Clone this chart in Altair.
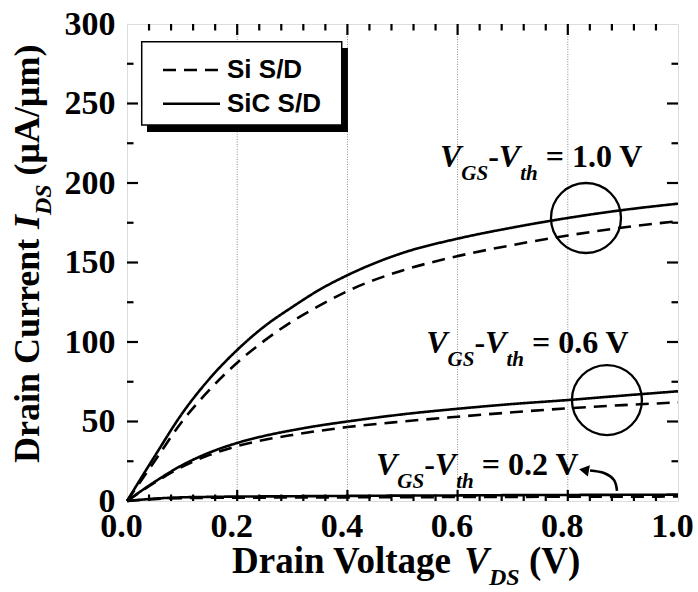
import altair as alt
import numpy as np
import pandas as pd

# Output characteristics I_DS (uA/um) versus drain voltage V_DS (V)
VDS = [0.0, 0.05, 0.1, 0.15, 0.2, 0.25, 0.3, 0.35, 0.4, 0.5, 0.6, 0.7, 0.8, 0.9, 1.0]
SIC_10 = [0, 28, 55, 77, 95, 110, 122, 133, 142, 156, 165, 172, 178, 183, 187]
SI_10 = [0, 25, 50, 70, 87, 101, 113, 123, 132, 145, 154, 161, 167, 172, 176]
SIC_06 = [0, 12, 22.5, 30.5, 36.5, 41, 44.5, 47.5, 50, 54.5, 58, 61, 63.5, 66.3, 69]
SI_06 = [0, 11.5, 21.5, 29, 34.5, 38.5, 41.5, 44.2, 46.5, 50, 53, 55.8, 58.3, 60.3, 62]
SIC_02 = [0, 1.5, 2.3, 2.6, 2.8, 2.9, 3.0, 3.1, 3.2, 3.4, 3.5, 3.7, 3.8, 3.9, 4.0]
SI_02 = [0, 1.2, 1.8, 2.0, 2.1, 2.15, 2.2, 2.25, 2.3, 2.4, 2.5, 2.6, 2.7, 2.75, 2.8]

SERIES = ["Si S/D", "SiC S/D"]
OVERDRIVES = ["1.0", "0.6", "0.2"]

# annotation anchors (data units)
ANNOT_X = [0.568, 0.543, 0.452]
ANNOT_Y = [210, 93, 16.4]
CIRCLE_X = [0.833, 0.871]
CIRCLE_Y = [178, 63.5]
ARROW_X = [0.8893, 0.8838, 0.8657, 0.8403]
ARROW_Y = [6.3, 13.2, 17.6, 19.2]
ARROW_TIP = (0.8294, 19.5)

# axes
X_LABELS = [0.0, 0.2, 0.4, 0.6, 0.8, 1.0]
Y_LABELS = [0, 50, 100, 150, 200, 250, 300]
X_MAJOR = [0.2, 0.4, 0.6, 0.8]
X_MINOR = [round(v, 2) for v in np.arange(0.04, 1.0, 0.04) if round(v, 2) not in X_MAJOR]
Y_MAJOR = [50, 100, 150, 200, 250]
Y_MINOR = [25, 75, 125, 175, 225, 275]

W, H = 551, 477
SERIF = "Liberation Serif"
SANS = "Liberation Sans"

XS = alt.Scale(domain=[0, 1], nice=False, zero=False)
YS = alt.Scale(domain=[0, 300], nice=False, zero=False)
DASH = alt.Scale(domain=SERIES, range=[[13, 8], [1, 0]])

X_AXIS = alt.Axis(values=X_LABELS, format=".1f", title=None, ticks=False, tickSize=0,
                  domain=False, grid=False, labelFont=SERIF, labelFontWeight="bold",
                  labelFontSize=34, labelColor="black", labelPadding=8, labelOffset=-6,
                  labelFlush=False, labelOverlap=False, labelBound=False)
Y_AXIS = alt.Axis(values=Y_LABELS, format="d", title=None, ticks=False, tickSize=0,
                  domain=False, grid=False, labelFont=SERIF, labelFontWeight="bold",
                  labelFontSize=34, labelColor="black", labelPadding=12,
                  labelOverlap=False, labelBound=False)

# Times bold / bold-italic advance widths (per 1000 em)
TB = {" ": 250, "(": 333, ")": 333, "-": 333, ".": 250, "/": 278, "=": 570,
      "A": 722, "C": 722, "D": 722, "G": 778, "I": 389, "S": 556, "V": 722,
      "a": 500, "e": 444, "g": 500, "i": 278, "l": 278, "m": 833, "n": 556,
      "o": 500, "r": 444, "t": 333, "u": 556, "μ": 556}
TB.update({d: 500 for d in "0123456789"})
TBI = {" ": 250, "D": 722, "G": 722, "I": 389, "S": 556, "V": 667, "h": 556, "t": 278}


def xq(field="x"):
    return alt.X(f"{field}:Q", scale=XS, axis=X_AXIS)


def yq(field="y"):
    return alt.Y(f"{field}:Q", scale=YS, axis=Y_AXIS)


def rich(data, x, y, pieces, size, sub_size, drop, angle=0):
    """Text with italic subscripts, laid out piece by piece along the baseline."""
    layers, offset = [], 0.0
    for text, style in pieces:
        italic = style in ("bi", "sub")
        fs = sub_size if style == "sub" else size
        table = TBI if italic else TB
        # leading blanks are collapsed by SVG, so turn them into an offset
        while text.startswith(" "):
            offset += table[" "] / 1000 * fs
            text = text[1:]
        props = dict(align="left", baseline="alphabetic", font=SERIF, fontWeight="bold",
                     fontStyle="italic" if italic else "normal", fontSize=fs,
                     color="black", dx=round(offset, 1), dy=drop if style == "sub" else 0)
        if angle:
            props["angle"] = angle
        enc = dict(x=x, y=y)
        if text.startswith("@"):
            enc["text"] = alt.Text(text[1:] + ":N")
        else:
            props["text"] = text
            offset += sum(table[c] for c in text) / 1000 * fs
        layers.append(alt.Chart(data).mark_text(**props).encode(**enc))
    return layers


rows = []
for ov, si, sic in zip(OVERDRIVES, [SI_10, SI_06, SI_02], [SIC_10, SIC_06, SIC_02]):
    for v, a, b in zip(VDS, si, sic):
        rows.append({"x": v, "y": a, "vgs": ov, "sd": SERIES[0]})
        rows.append({"x": v, "y": b, "vgs": ov, "sd": SERIES[1]})
curves = pd.DataFrame(rows)

curve_layer = alt.Chart(curves).mark_line(color="black", strokeWidth=2.6,
                                          interpolate="monotone").encode(
    x=xq(), y=yq(), detail="vgs:N",
    strokeDash=alt.StrokeDash("sd:N", scale=DASH, legend=None),
)

grid = alt.Chart(pd.DataFrame({"x": X_MAJOR})).mark_rule(
    color="#8a8a8a", strokeWidth=1, strokeDash=[1, 1.5]).encode(x=xq())

# legend box with drop shadow
shadow = alt.Chart(pd.DataFrame({"x": [0.0363], "x2": [0.401], "y": [284.9], "y2": [232.1]})
                   ).mark_rect(color="black").encode(x=xq(), x2="x2", y=yq(), y2="y2")
box = alt.Chart(pd.DataFrame({"x": [0.0267], "x2": [0.3897], "y": [288.9], "y2": [236.5]})
                ).mark_rect(fill="white", stroke="black", strokeWidth=1.5
                            ).encode(x=xq(), x2="x2", y=yq(), y2="y2")
leg = pd.DataFrame({"sd": SERIES, "x": [0.0653] * 2, "x2": [0.1688] * 2,
                    "tx": [0.1815] * 2, "y": [271.1, 249.8]})
leg_lines = alt.Chart(leg).mark_rule(color="black", strokeWidth=2.6).encode(
    x=xq(), x2="x2", y=yq(),
    strokeDash=alt.StrokeDash("sd:N", scale=DASH, legend=None))
leg_text = alt.Chart(leg).mark_text(align="left", baseline="middle", font=SANS,
                                    fontWeight="bold", fontSize=26, color="black").encode(
    x=xq("tx"), y=yq(), text="sd:N")

circles = alt.Chart(pd.DataFrame({"x": CIRCLE_X, "y": CIRCLE_Y})).mark_point(
    shape="circle", size=4900, filled=False, color="black", strokeWidth=2.3, opacity=1
).encode(x=xq(), y=yq())

arrow = alt.Chart(pd.DataFrame({"x": ARROW_X, "y": ARROW_Y, "i": range(len(ARROW_X))})
                  ).mark_line(color="black", strokeWidth=2.6, interpolate="cardinal"
                              ).encode(x=xq(), y=yq(), order="i:Q")
head = alt.Chart(pd.DataFrame({"x": [ARROW_TIP[0]], "y": [ARROW_TIP[1]]})).mark_point(
    shape="triangle-left", size=130, filled=True, color="black", opacity=1, angle=10
).encode(x=xq(), y=yq())

annot = pd.DataFrame({"x": ANNOT_X, "y": ANNOT_Y,
                      "tail": [f"= {v} V" for v in OVERDRIVES]})
annot_layers = rich(annot, xq(), yq(),
                    [("V", "bi"), ("GS", "sub"), ("-", "b"), ("V", "bi"),
                     ("th", "sub"), (" @tail", "b")], 32, 21, 13)

one = pd.DataFrame({"k": [0]})
xtitle = rich(one, alt.value(105), alt.value(549),
              [("Drain Voltage", "b"), (" V", "bi"), ("DS", "sub"), (" (V)", "b")],
              37, 24, 12)
ytitle = rich(one, alt.value(-88), alt.value(439),
              [("Drain Current", "b"), (" I", "bi"), ("DS", "sub"), (" (μA/μm)", "b")],
              36, 24, 12, angle=270)


def xticks(values, length):
    df = pd.DataFrame({"x": values})
    bottom = alt.Chart(df).mark_rule(color="black", strokeWidth=2.2).encode(
        x=xq(), y=alt.value(H), y2=alt.value(H - length))
    top = alt.Chart(df).mark_rule(color="black", strokeWidth=2.2).encode(
        x=xq(), y=alt.value(0), y2=alt.value(length))
    return [bottom, top]


def yticks(values, length):
    df = pd.DataFrame({"y": values})
    left = alt.Chart(df).mark_rule(color="black", strokeWidth=2.2).encode(
        y=yq(), x=alt.value(0), x2=alt.value(length))
    right = alt.Chart(df).mark_rule(color="black", strokeWidth=2.2).encode(
        y=yq(), x=alt.value(W), x2=alt.value(W - length))
    return [left, right]


ticks = xticks(X_MAJOR, 11) + xticks(X_MINOR, 6.5) + yticks(Y_MAJOR, 11) + yticks(Y_MINOR, 6.5)

chart = alt.layer(
    grid, shadow, box, leg_lines, leg_text, curve_layer, circles, arrow, head,
    *annot_layers, *ticks, *xtitle, *ytitle,
).properties(
    width=W, height=H,
    autosize=alt.AutoSizeParams(type="none"),
    padding={"left": 127, "top": 24, "right": 20, "bottom": 91},
).configure_view(stroke="black", strokeWidth=3).configure(background="white")

chart.save("out.html", embed_options={"renderer": "svg", "actions": False})
